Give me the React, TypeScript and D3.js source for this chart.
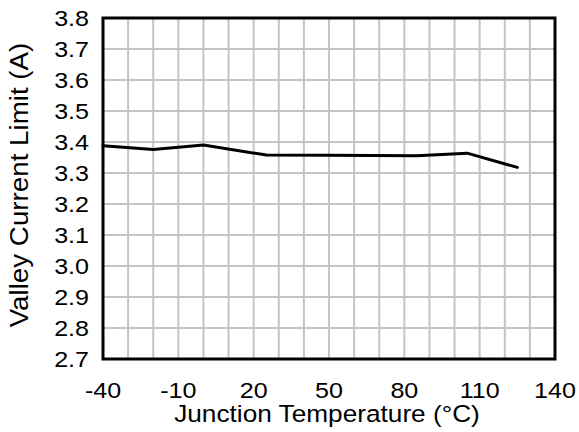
import React from "react";
import * as d3 from "d3";

const temperatures = [-40, -20, 0, 25, 50, 85, 105, 125];
const valleyLimits = [3.388, 3.376, 3.39, 3.358, 3.357, 3.356, 3.364, 3.318];
const xTicks = [-40, -10, 20, 50, 80, 110, 140];
const yTicks = [2.7, 2.8, 2.9, 3.0, 3.1, 3.2, 3.3, 3.4, 3.5, 3.6, 3.7, 3.8];
const xGrid = d3.range(-40, 141, 10);

const W = 579, H = 432;
const M = { left: 103, right: 555, top: 18, bottom: 359 };
const FONT = "'Liberation Sans', Arial, Helvetica, sans-serif";
const SX = 1.14;

export default function App() {
  const x = d3.scaleLinear().domain([-40, 140]).range([M.left, M.right]);
  const y = d3.scaleLinear().domain([2.7, 3.8]).range([M.bottom, M.top]);
  const pts = temperatures.map((t, i) => [t, valleyLimits[i]] as [number, number]);
  const line = d3.line<[number, number]>().x(d => x(d[0])).y(d => y(d[1]));

  return (
    <svg width={W} height={H} style={{ position: "absolute", left: 0, top: 0, background: "#fff" }}>
      <g>
        {xGrid.map(v => (
          <line key={"xg" + v} x1={x(v)} x2={x(v)} y1={M.top} y2={M.bottom} stroke="#c4c4c4" strokeWidth={2} />
        ))}
        {yTicks.map(v => (
          <line key={"yg" + v} x1={M.left} x2={M.right} y1={y(v)} y2={y(v)} stroke="#c4c4c4" strokeWidth={2} />
        ))}
      </g>
      <path d={line(pts) || ""} fill="none" stroke="#000" strokeWidth={3} strokeLinejoin="round" strokeLinecap="round" />
      <rect x={M.left} y={M.top} width={M.right - M.left} height={M.bottom - M.top} fill="none" stroke="#000" strokeWidth={3} />
      <g fontFamily={FONT} fontSize={22} fill="#000">
        {yTicks.map(v => (
          <text key={"yt" + v} transform={`translate(89,${y(v)}) scale(${SX},1)`} dy="0.36em" textAnchor="end">{v.toFixed(1)}</text>
        ))}
        {xTicks.map(v => (
          <text key={"xt" + v} transform={`translate(${x(v)},397.5) scale(${SX},1)`} textAnchor="middle">{v}</text>
        ))}
      </g>
      <text transform={`translate(327,421.5) scale(1.07,1)`} textAnchor="middle" fontFamily={FONT} fontSize={24.5}>Junction Temperature (°C)</text>
      <text transform={`translate(28,185) rotate(-90) scale(1.11,1)`} textAnchor="middle" fontFamily={FONT} fontSize={25}>Valley Current Limit (A)</text>
    </svg>
  );
}
